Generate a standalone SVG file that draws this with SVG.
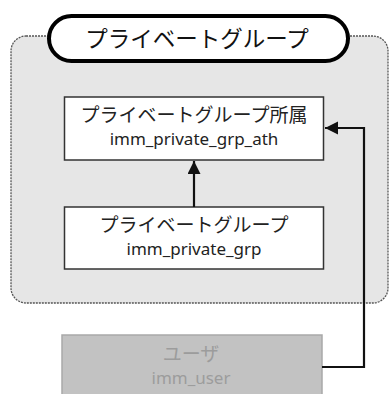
<svg xmlns="http://www.w3.org/2000/svg" width="389" height="394" viewBox="0 0 389 394">
  <style>
    text { font-family: "Noto Sans", "Noto Sans CJK JP", sans-serif; text-anchor: middle; fill: #222; }
    .jp { font-size: 19px; }
    .en { font-size: 17px; }
    .title { font-size: 22.5px; fill: #111; }
    .table { fill: #fff; stroke: #333; stroke-width: 1.5; }
    .ext-box { fill: #c2c2c2; stroke: #a9a9a9; stroke-width: 1.5; }
    .ext-text { fill: #9c9c9c; }
    .conn { fill: none; stroke: #111; stroke-width: 2.2; }
  </style>
  <defs>
    <marker id="arrow" markerUnits="userSpaceOnUse" markerWidth="14" markerHeight="14" refX="13" refY="6.5" orient="auto">
      <path d="M0,0 L13,6.5 L0,13 z" fill="#111"/>
    </marker>
  </defs>
  <rect width="389" height="394" fill="#fff"/>

  <!-- group container -->
  <g id="group-private">
    <rect x="11" y="36" width="377" height="267" rx="15" fill="#e6e6e6" stroke="#555" stroke-width="1.3" stroke-dasharray="2,1"/>
    <rect x="49" y="16" width="299" height="45" rx="22.5" fill="#fff" stroke="#000" stroke-width="4"/>
    <text class="title" x="197" y="47">プライベートグループ</text>
  </g>

  <g id="node-private-grp-ath">
    <rect class="table" x="64.5" y="97" width="259" height="63"/>
    <text class="jp" x="194" y="122">プライベートグループ所属</text>
    <text class="en" x="194" y="145">imm_private_grp_ath</text>
  </g>

  <g id="node-private-grp">
    <rect class="table" x="64.5" y="207" width="259" height="62"/>
    <text class="jp" x="194" y="232">プライベートグループ</text>
    <text class="en" x="194" y="255">imm_private_grp</text>
  </g>

  <g id="node-user">
    <rect class="ext-box" x="62" y="335" width="260" height="70"/>
    <text class="jp ext-text" x="191" y="361">ユーザ</text>
    <text class="en ext-text" x="191" y="384">imm_user</text>
  </g>

  <g id="connectors">
    <line class="conn" x1="194" y1="207" x2="194" y2="161" marker-end="url(#arrow)"/>
    <polyline class="conn" points="322,367 364,367 364,128 325,128" marker-end="url(#arrow)"/>
  </g>
</svg>
